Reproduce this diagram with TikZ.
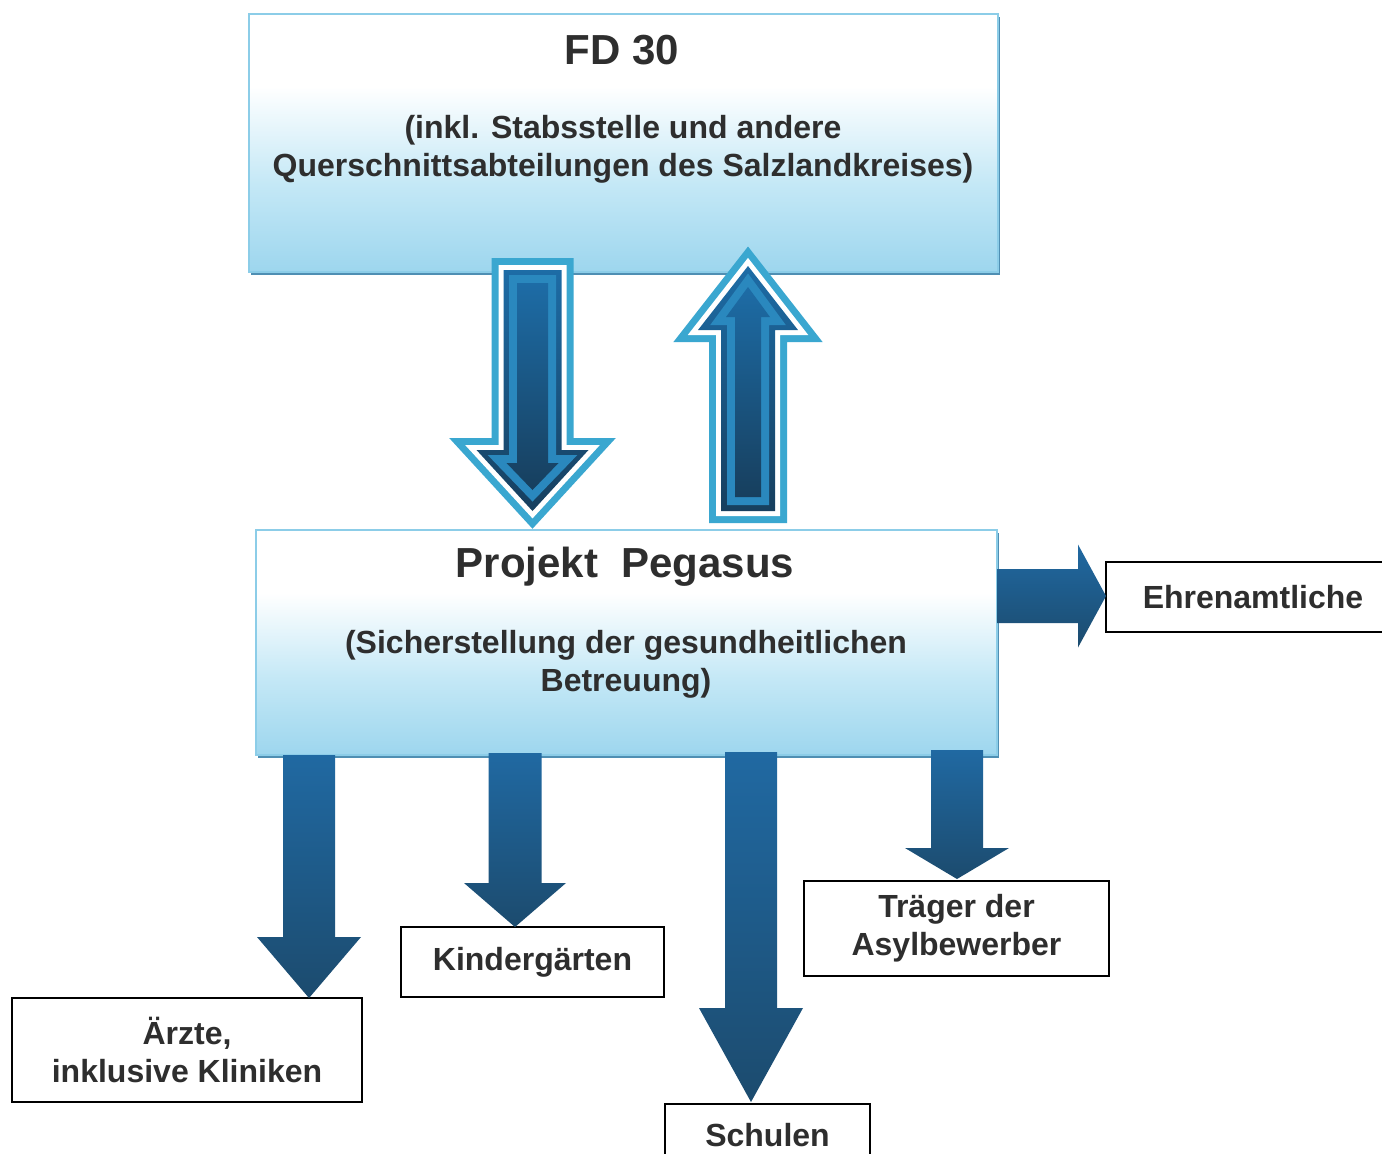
\documentclass[tikz,border=0pt]{standalone}
\usepackage{fontspec}
\setmainfont{Liberation Sans}
\usetikzlibrary{shadows}
\definecolor{txt}{HTML}{2E2E2E}
\definecolor{boxA}{HTML}{9DD6EE}
\definecolor{boxB}{HTML}{C4E8F6}
\definecolor{boxedge}{HTML}{8CCDE8}
\definecolor{boxshadow}{HTML}{4F8FB3}
\definecolor{arrlight}{HTML}{3AA7D0}
\definecolor{arrmid}{HTML}{2A88BE}
\definecolor{arrtop}{HTML}{1D6CA6}
\definecolor{arrbot}{HTML}{173F5E}
\definecolor{solidtop}{HTML}{2069A2}
\definecolor{solidbot}{HTML}{1C4B6E}
\pgfdeclareverticalshading{panelshade}{100bp}{color(0bp)=(boxA); color(25bp)=(boxA); color(42bp)=(boxB); color(61bp)=(white); color(100bp)=(white)}
% vertical block arrow: style, cx, shaft half width, tail y, head base y, head half width, tip y
\newcommand\barrowv[7]{\path[#1] ({#2-#3},#4) -- ({#2+#3},#4) -- ({#2+#3},#5) -- ({#2+#6},#5) -- (#2,#7) -- ({#2-#6},#5) -- ({#2-#3},#5) -- cycle;}
% horizontal block arrow: style, cy, shaft half height, tail x, head base x, head half height, tip x
\newcommand\barrowh[7]{\path[#1] (#4,{#2-#3}) -- (#4,{#2+#3}) -- (#5,{#2+#3}) -- (#5,{#2+#6}) -- (#7,#2) -- (#5,{#2-#6}) -- (#5,{#2-#3}) -- cycle;}
\begin{document}
\begin{tikzpicture}[x=0.5pt,y=-0.5pt,
  panel/.style={shade, shading=panelshade, draw=boxedge, line width=0.8pt, inner sep=0pt,
    drop shadow={shadow xshift=0.8pt, shadow yshift=-1.6pt, fill=boxshadow, opacity=1}},
  head/.style={font=\fontsize{21}{25}\selectfont\bfseries, text=txt, inner sep=0pt},
  sub/.style={font=\fontsize{16}{19}\selectfont\bfseries, text=txt, align=center, inner sep=0pt},
  smallbox/.style={draw=black, line width=1pt, fill=white, font=\fontsize{16}{19}\selectfont\bfseries,
    text=txt, align=center, inner sep=0pt},
  outline/.style={draw=arrlight, line width=12pt, line join=miter, miter limit=10},
  gap/.style={draw=white, line width=5pt, line join=miter, miter limit=10},
  band/.style={draw=arrmid, line width=8pt, line join=miter, miter limit=10},
  dark/.style={top color=arrtop, bottom color=arrbot},
  solid/.style={top color=solidtop, bottom color=solidbot}]
\clip (0,0) rectangle (1382,1153);
\fill[white] (0,0) rectangle (1382,1153);

% main panels
\node[panel, minimum width=374.5pt, minimum height=129pt] (fd) at (623.5,143) {};
\node[panel, minimum width=370.5pt, minimum height=112.5pt] (pegasus) at (626.5,642.5) {};

\node[head] (fdtitle) at (622,50) {FD 30};
\node[sub] (fdsub) at (623,149) {(inkl. Stabsstelle und andere\\Querschnittsabteilungen des Salzlandkreises)};
\node[head] (pgtitle) at (625,567) {Projekt\ \ Pegasus};
\node[sub] (pgsub) at (626,664) {(Sicherstellung der gesundheitlichen\\Betreuung)};

% target boxes
\node[smallbox, minimum width=175pt, minimum height=52pt] (aerzte) at (187,1050) {Ärzte,\\inklusive Kliniken};
\node[smallbox, minimum width=131.5pt, minimum height=35pt] (kinder) at (532.5,962) {Kindergärten};
\node[smallbox, minimum width=102.5pt, minimum height=31pt] (schulen) at (767.5,1135) {Schulen};
\node[smallbox, minimum width=152.5pt, minimum height=47.5pt] (traeger) at (956.5,928) {Träger der\\Asylbewerber};
\node[smallbox, minimum width=147pt, minimum height=35pt] (ehren) at (1253,597) {Ehrenamtliche};

% down double arrow (FD 30 -> Pegasus)
\barrowv{outline}{532.5}{29}{270}{450}{56}{511}
\barrowv{gap}{532.5}{29}{270}{450}{56}{511}
\barrowv{dark}{532.5}{29}{270}{450}{56}{511}
\barrowv{band}{532.5}{15.5}{283}{463}{26}{490}
\barrowv{dark}{532.5}{15.5}{283}{463}{26}{490}

% up double arrow (Pegasus -> FD 30)
\barrowv{outline}{748}{27}{511}{330}{50}{266}
\barrowv{gap}{748}{27}{511}{330}{50}{266}
\barrowv{dark}{748}{27}{511}{330}{50}{266}
\barrowv{band}{748}{13}{497}{317}{22}{287}
\barrowv{dark}{748}{13}{497}{317}{22}{287}

% solid arrows from Pegasus
\barrowv{solid}{309}{26}{755}{937}{52}{998}
\barrowv{solid}{515}{26.5}{753}{883}{51}{927}
\barrowv{solid}{751}{26}{752}{1008}{52}{1102}
\barrowv{solid}{957}{26}{750}{848}{52}{879}
\barrowh{solid}{596}{27}{997}{1078}{51.5}{1106}
\end{tikzpicture}
\end{document}
